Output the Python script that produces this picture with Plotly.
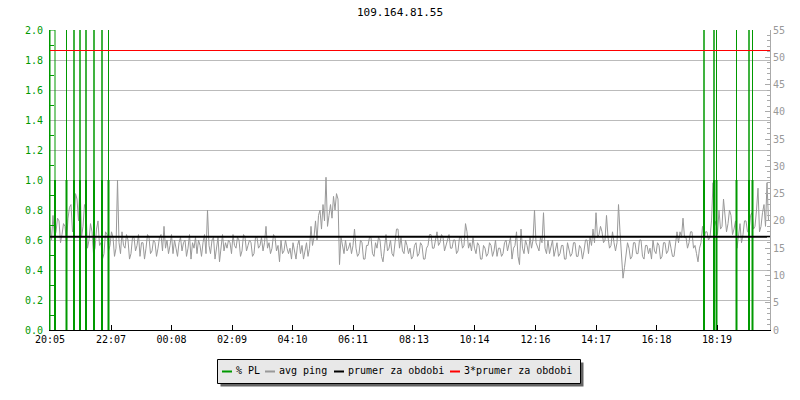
import plotly.graph_objects as go

# ---------------- data ----------------
title_text = "109.164.81.55"
start_clock = "20:05"          # left edge of the time axis (24 h window)
window_min = 1440
sample_step_min = 3            # spacing of the ping samples below

x_tick_labels = ["20:05", "22:07", "00:08", "02:09", "04:10", "06:11",
                 "08:13", "10:14", "12:16", "14:17", "16:18", "18:19"]

# average ping [ms], one value every 3 minutes starting 20:05
ping_ms = [
    19, 16.5, 21, 17, 18, 20.5, 20, 16, 17.5, 19.5, 19, 16, 20.5, 22.5, 23, 18, 18.5, 25, 24, 20,
    27.5, 17, 19, 23, 22, 15, 16.5, 19.5, 18, 14, 15, 18.5, 20, 15.5, 16, 13, 14, 18, 17.5, 14.5,
    15.5, 18, 17, 13.5, 15, 27.5, 16, 14, 18, 15.5, 15, 17.5, 16.5, 13, 14, 17, 17, 14.5, 15.5, 17.5,
    13.5, 16, 16, 13, 15, 17.5, 17, 14, 14.5, 16.5, 16, 13.5, 15, 17, 17.5, 14.5, 19, 15, 16.5, 14,
    15.5, 17.5, 14, 16.5, 15, 13.5, 16, 17, 14.5, 16, 16.5, 13.5, 15, 17.5, 13, 16, 15, 17, 14, 16.5,
    15.5, 13.5, 16, 17.5, 14, 22, 15.5, 14, 16.5, 17, 13, 15.5, 17, 12.5, 15, 17.5, 14.5, 16, 15, 16.5,
    16, 14, 17.5, 15.5, 15, 17, 16.5, 13.5, 14.5, 17.5, 17, 14.5, 15.5, 16.5, 16, 13.5, 14, 17, 17, 15,
    15.5, 17, 14.5, 16, 19, 15, 16, 14, 15, 17.5, 17, 14.5, 15.5, 12.5, 16.5, 14, 14.5, 16.5, 15, 14,
    15, 13, 16, 14.5, 13, 15.5, 16.5, 14, 15.5, 13, 14.5, 16, 13.5, 15, 19, 15.5, 17, 20, 16.5, 21,
    22, 18.5, 23, 20, 28, 19, 21, 23, 20.5, 24.5, 22, 25, 24, 12, 17, 15.5, 14, 16.5, 14.5, 15,
    16, 14, 15.5, 18.5, 15, 13.5, 14, 16.5, 16, 13, 13, 15.5, 15.5, 17, 17, 14, 13.5, 16, 15, 17,
    16.5, 13.5, 12.5, 15, 17.5, 14.5, 15, 16.5, 14, 13.5, 16, 18.5, 18.5, 15, 17, 14.5, 14, 16.5, 15.5, 14,
    15, 13, 13.5, 15.5, 16, 13.5, 14, 16, 15.5, 13, 13, 15, 15.5, 17.5, 17.5, 15, 15, 16.5, 18, 15.5,
    16, 17.5, 17, 14.5, 15.5, 17, 17.5, 15, 15, 16.5, 16.5, 14, 14.5, 17, 17, 15, 15.5, 19.5, 18, 15,
    16, 14.5, 17, 15, 14, 16, 15.5, 13, 13, 15.5, 15, 13.5, 14, 16, 15.5, 13.5, 14.5, 16.5, 13.5, 15,
    15, 13.5, 14, 16, 16.5, 14.5, 15.5, 17, 13, 15, 15.5, 18, 13.5, 12, 18.5, 15, 14, 16.5, 15.5, 14,
    17, 15, 16.5, 22, 16, 15, 14.5, 17, 16, 21.5, 15, 14, 16.5, 14, 15, 16.5, 13.5, 15, 16, 13.5,
    14, 15.5, 15.5, 13, 13, 16, 15, 13.5, 14, 16, 16, 13.5, 13.5, 15.5, 15, 13, 14.5, 16.5, 16.5, 14,
    17, 15.5, 18.5, 16, 21.5, 17, 17.5, 19, 18, 16, 16.5, 21, 17, 15, 15.5, 18, 16, 14.5, 16, 23,
    18, 14, 9.5, 11.5, 14, 16, 15, 13, 13.5, 16, 16, 14, 14, 16.5, 16.5, 13.5, 13, 15.5, 15.5, 14,
    15, 13, 16.5, 14.5, 14, 16, 15.5, 13, 13.5, 16, 16, 14, 14.5, 16.5, 15, 13.5, 13.5, 16, 18, 16,
    18, 17, 20.5, 17, 17, 15, 16, 18, 18, 15, 15.5, 14, 12.5, 15, 16, 19, 16.5, 18, 18, 16.5,
    17, 20, 27, 19, 20, 17.5, 22, 18.5, 19, 24, 20, 18, 19.5, 22, 21, 17.5, 18.5, 20, 15, 17,
    19.5, 16, 17.5, 20, 20, 18, 18, 21, 21.5, 18.5, 19, 22, 26, 18, 19, 21.5, 23, 19, 27, 20,
]
mean_ping_ms = 17.08           # "prumer za obdobi"

# packet-loss events (% PL); values reach the top of the left scale
pl_times = ["20:15", "20:38", "20:53", "21:05", "21:17", "21:33", "21:49", "22:02",
            "17:53", "18:13", "18:18", "18:58", "19:23", "19:30"]
pl_values = [2.0, 2.0, 2.0, 2.0, 2.0, 2.0, 2.0, 2.0,
             2.0, 2.0, 2.0, 2.0, 2.0, 2.0]
pl_run_min = [10, 0, 0, 0, 0, 0, 0, 0, 0, 0, 0, 0, 0, 0]   # loss lasting before the event

legend_labels = ["% PL", "avg ping", "prumer za obdobi", "3*prumer za obdobi"]

# ---------------- styling ----------------
GREEN = "#009900"
GRAY = "#999999"
FONT = "DejaVu Sans Mono"


def clock_to_min(s):
    h, m = map(int, s.split(":"))
    h0, m0 = map(int, start_clock.split(":"))
    return ((h * 60 + m) - (h0 * 60 + m0)) % 1440


ping_x = [i * sample_step_min for i in range(len(ping_ms))]
tick_vals = [clock_to_min(s) for s in x_tick_labels]

# thin PL line (up to the value) and thick PL bar (capped at 1.0)
thin_x, thin_y, thick_x, thick_y = [], [], [], []
for t, v, run in zip(pl_times, pl_values, pl_run_min):
    tm = clock_to_min(t)
    ts = tm - run
    thin_x += [ts, ts, tm, tm, None]
    thin_y += [0, v, v, 0, None]
    thick_x += [tm, tm, None]
    thick_y += [0, min(v, 1.0), None]

fig = go.Figure()

fig.add_trace(go.Scatter(x=ping_x, y=ping_ms, mode="lines", yaxis="y",
                         line=dict(color=GRAY, width=1), name="avg ping",
                         hoverinfo="skip"))
fig.add_trace(go.Scatter(x=thin_x, y=thin_y, mode="lines", yaxis="y2",
                         line=dict(color=GREEN, width=1), name="% PL",
                         hoverinfo="skip"))
fig.add_trace(go.Scatter(x=thick_x, y=thick_y, mode="lines", yaxis="y2",
                         line=dict(color=GREEN, width=2), name="% PL",
                         hoverinfo="skip"))
fig.add_trace(go.Scatter(x=[0, window_min], y=[mean_ping_ms, mean_ping_ms],
                         mode="lines", yaxis="y3",
                         line=dict(color="black", width=2), name="prumer za obdobi"))
fig.add_trace(go.Scatter(x=[0, window_min], y=[3 * mean_ping_ms, 3 * mean_ping_ms],
                         mode="lines", yaxis="y3",
                         line=dict(color="#ff0000", width=1), name="3*prumer za obdobi"))

L, R, T, B = 50, 30, 30, 70
W, H = 800, 400
PW, PH = W - L - R, H - T - B


def px(xp):
    return (xp - L) / PW


def py(yp):
    return (H - B - yp) / PH


shapes = []
annotations = []
# legend box with shadow
shapes.append(dict(type="rect", xref="paper", yref="paper",
                   x0=px(220.5), x1=px(583.5), y0=py(362.5), y1=py(386.5),
                   fillcolor="#646464", line=dict(width=0), layer="above"))
shapes.append(dict(type="rect", xref="paper", yref="paper",
                   x0=px(217.5), x1=px(580.5), y0=py(359.5), y1=py(383.5),
                   fillcolor="#e8e8e8", line=dict(color="black", width=1), layer="above"))
leg_colors = [GREEN, GRAY, "black", "#ff0000"]
dash_x = [222, 265, 334, 450]
text_x = [236, 279, 347.5, 464]
for c, dx, tx, lab in zip(leg_colors, dash_x, text_x, legend_labels):
    shapes.append(dict(type="rect", xref="paper", yref="paper",
                       x0=px(dx), x1=px(dx + 10), y0=py(370.5), y1=py(372.5),
                       fillcolor=c, line=dict(width=0), layer="above"))
    annotations.append(dict(text=lab, xref="paper", yref="paper", x=px(tx), y=py(370.8),
                            xanchor="left", yanchor="middle", showarrow=False,
                            borderpad=0, borderwidth=0,
                            font=dict(family=FONT, size=10, color="black")))

fig.update_layout(
    width=W, height=H,
    margin=dict(l=L, r=R, t=T, b=B),
    paper_bgcolor="white", plot_bgcolor="white",
    showlegend=False,
    title=dict(text=title_text, x=0.5, xref="container", xanchor="center",
               y=1 - 12 / H, yref="container", yanchor="middle",
               font=dict(family=FONT, size=11, color="black")),
    font=dict(family=FONT, size=10, color="black"),
    xaxis=dict(range=[0, window_min], tickvals=tick_vals, ticktext=x_tick_labels,
               showgrid=False, zeroline=False, showline=True, linecolor="black",
               linewidth=1, ticks="inside", ticklen=5, tickcolor="black",
               tickfont=dict(family=FONT, size=10, color="black")),
    yaxis=dict(range=[0, 55], side="right", dtick=5, showgrid=False, zeroline=False,
               showline=True, linecolor="#aaaaaa", linewidth=1,
               ticks="inside", ticklen=5, tickcolor="#aaaaaa",
               minor=dict(dtick=1, ticks="inside", ticklen=3, tickcolor="#aaaaaa"),
               tickfont=dict(family=FONT, size=10, color="#999999")),
    yaxis2=dict(range=[0, 2.0], overlaying="y", side="left", dtick=0.2,
                tickformat=".1f", showgrid=True, gridcolor="#bbbbbb", gridwidth=1,
                zeroline=False, showline=True, linecolor=GREEN, linewidth=1,
                ticks="", ticklabelstandoff=4,
                minor=dict(dtick=0.1, ticks="inside", ticklen=4, tickcolor=GREEN),
                tickfont=dict(family=FONT, size=10, color=GREEN)),
    yaxis3=dict(range=[0, 55], overlaying="y", visible=False),
    shapes=shapes,
    annotations=annotations,
)

fig.write_html("out.html",
               config={"displayModeBar": False, "staticPlot": True},
               post_script="document.body.style.margin='0';document.body.style.overflow='hidden';")
